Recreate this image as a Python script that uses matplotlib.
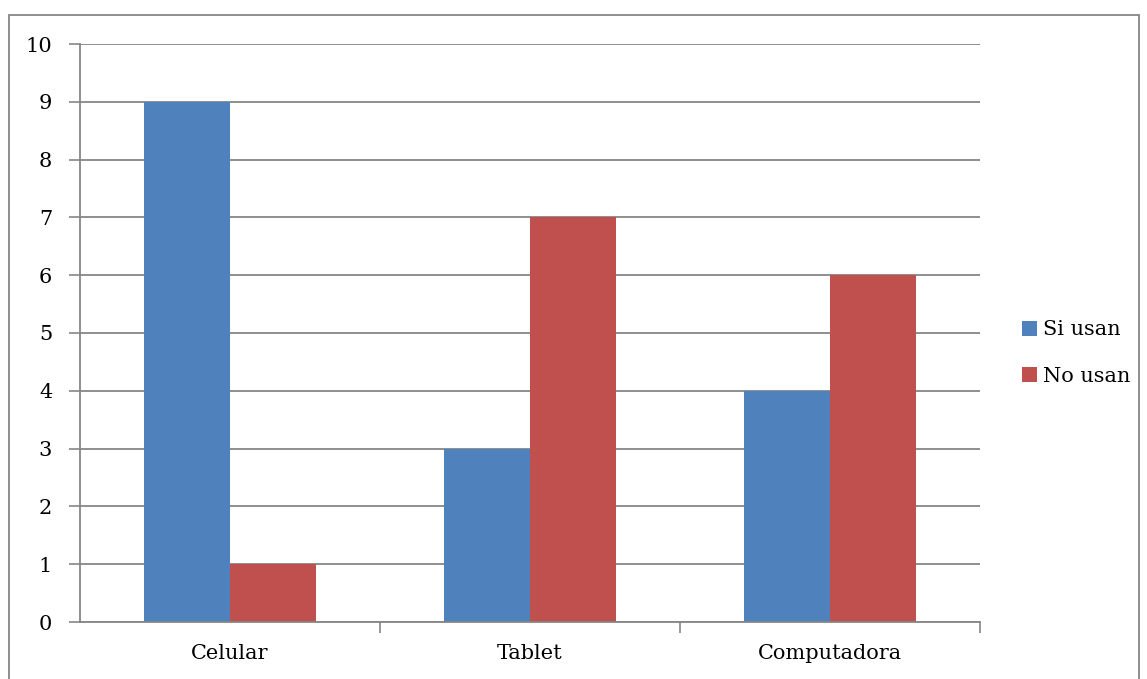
import matplotlib
matplotlib.use("Agg")
import matplotlib.pyplot as plt
import numpy as np
from matplotlib.patches import Rectangle

categories = ["Celular", "Tablet", "Computadora"]
si_usan = [9, 3, 4]
no_usan = [1, 7, 6]
series_labels = ["Si usan", "No usan"]
colors = ["#4F81BD", "#C0504D"]
yticks = list(range(0, 11))

plt.rcParams['font.family'] = ['DejaVu Serif']

W, H = 1147, 679
fig = plt.figure(figsize=(W/100, H/100), dpi=100)
ax = fig.add_axes([80/W, 57/H, 900/W, 578/H])

x = np.arange(len(categories))
bw = 1/3.5
ax.bar(x - bw/2, si_usan, bw, color=colors[0], label=series_labels[0], zorder=3)
ax.bar(x + bw/2, no_usan, bw, color=colors[1], label=series_labels[1], zorder=3)

fs = 15
ax.set_xlim(-0.5, len(categories) - 0.5)
ax.set_ylim(0, 10)
ax.set_yticks(yticks)
ax.set_yticklabels([str(v) for v in yticks], fontsize=fs)
ax.set_xticks(x)
ax.set_xticklabels(categories, fontsize=fs)
ax.tick_params(axis='x', length=0, pad=16)
ax.set_xticks(np.arange(len(categories)) + 0.5, minor=True)
ax.tick_params(axis='x', which='minor', length=8, color='#868686', width=1.2)
ax.tick_params(axis='y', length=8, color='#868686', width=1.2, pad=12)

grid_c = '#868686'
ax.yaxis.grid(True, color=grid_c, linewidth=1.3, zorder=0)
ax.set_axisbelow(True)
for s in ['top', 'right']:
    ax.spines[s].set_visible(False)
for s in ['left', 'bottom']:
    ax.spines[s].set_color(grid_c)
    ax.spines[s].set_linewidth(1.3)
    ax.spines[s].set_zorder(4)

leg = ax.legend(loc='center left', bbox_to_anchor=(1022/W, (679-353)/H), bbox_transform=fig.transFigure,
                frameon=False, fontsize=fs, handlelength=0.72, handleheight=0.72,
                handletextpad=0.3, labelspacing=1.3, borderpad=0, borderaxespad=0)

fig.patches.append(Rectangle((9/W, -0.1), 1130/W, (679-15)/H + 0.1, transform=fig.transFigure,
                             fill=False, edgecolor='#868686', linewidth=1.3))

fig.savefig("out.png", dpi=100)
